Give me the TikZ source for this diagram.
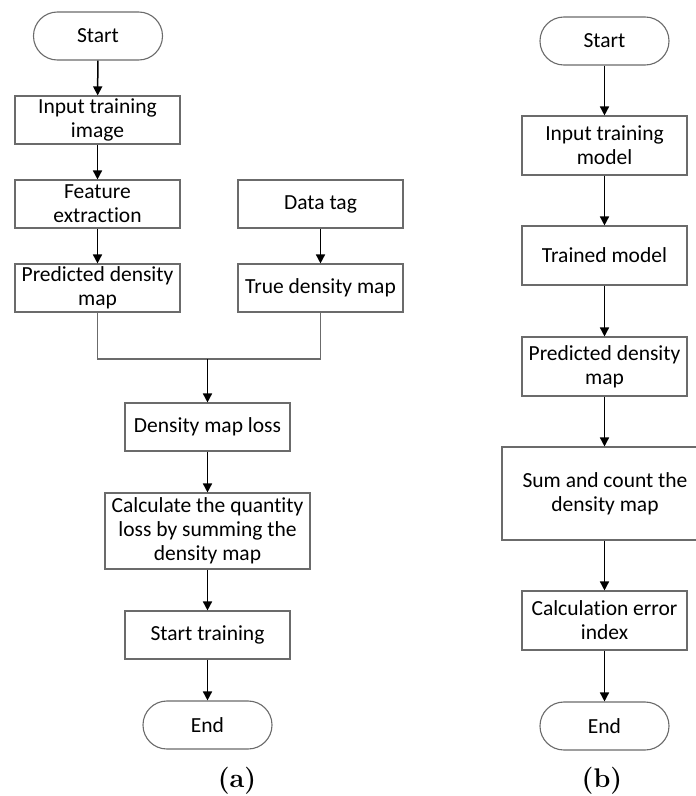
\documentclass[tikz,border=0pt]{standalone}
\usepackage{fontspec}
\setmainfont[Ligatures=NoCommon]{Carlito}
\usetikzlibrary{arrows.meta}
\begin{document}
\begin{tikzpicture}[x=1pt,y=-1pt,
  every node/.style={font=\fontsize{21.5}{24}\selectfont, text=black, inner sep=0pt, align=center},
  procbox/.style={draw=black!58, line width=1.1pt, rectangle, minimum width=165pt, minimum height=48pt},
  tallbox/.style={procbox, minimum height=59pt},
  terminal/.style={draw=black!58, line width=1.1pt, rectangle, rounded corners=23.9pt, minimum width=129pt, minimum height=48pt},
  flow/.style={draw=black, line width=1.5pt, -{Triangle[width=9pt,length=9pt]}},
  joinline/.style={draw=black!58, line width=1.1pt},
  caption/.style={font=\fontspec{Latin Modern Roman}\bfseries\fontsize{27}{30}\selectfont, text=black}
]
\clip (0,0) rectangle (696,796);
\fill[white] (0,0) rectangle (696,796);

% ---- (a) training flow ----
\node[terminal] (sa) at (98,36) {Start};
\node[procbox] (in) at (97.5,120) {Input training\\image};
\node[procbox] (fe) at (97.5,204) {Feature\\extraction};
\node[procbox] (pd) at (97.5,288) {Predicted density\\map};
\node[procbox] (dt) at (320.5,204) {Data tag};
\node[procbox] (td) at (320.5,288) {True density map};
\coordinate (mj) at (207.5,359);
\node[procbox] (dl) at (207.5,427) {Density map loss};
\node[procbox, minimum width=205pt, minimum height=76pt] (cq) at (207.5,531) {Calculate the quantity\\loss by summing the\\density map};
\node[procbox] (st) at (207.5,635) {Start training};
\node[terminal] (ea) at (207.5,725) {End};
\node[caption] (la) at (237,781) {(a)};

\draw[flow] (sa) -- (in);
\draw[flow] (in) -- (fe);
\draw[flow] (fe) -- (pd);
\draw[flow] (dt) -- (td);
\draw[joinline] (pd.south) |- (mj) -| (td.south);
\draw[flow] (mj) -- (dl);
\draw[flow] (dl) -- (cq);
\draw[flow] (cq) -- (st);
\draw[flow] (st) -- (ea);

% ---- (b) testing flow ----
\node[terminal] (sb) at (604.5,41) {Start};
\node[tallbox] (im) at (604.5,145.5) {Input training\\model};
\node[tallbox] (tm) at (604.5,255.5) {Trained model};
\node[tallbox] (pb) at (604.5,366.5) {Predicted density\\map};
\node[procbox, minimum width=206pt, minimum height=93pt] (sc) at (605,493.5) {Sum and count the\\density map};
\node[tallbox] (ce) at (604.5,620.5) {Calculation error\\index};
\node[terminal] (eb) at (604.5,726) {End};
\node[caption] (lb) at (602,781) {(b)};

\draw[flow] (sb) -- (im);
\draw[flow] (im) -- (tm);
\draw[flow] (tm) -- (pb);
\draw[flow] (pb.south) -- (pb.south |- sc.north);
\draw[flow] (sc.south -| ce.north) -- (ce);
\draw[flow] (ce) -- (eb);
\end{tikzpicture}
\end{document}
